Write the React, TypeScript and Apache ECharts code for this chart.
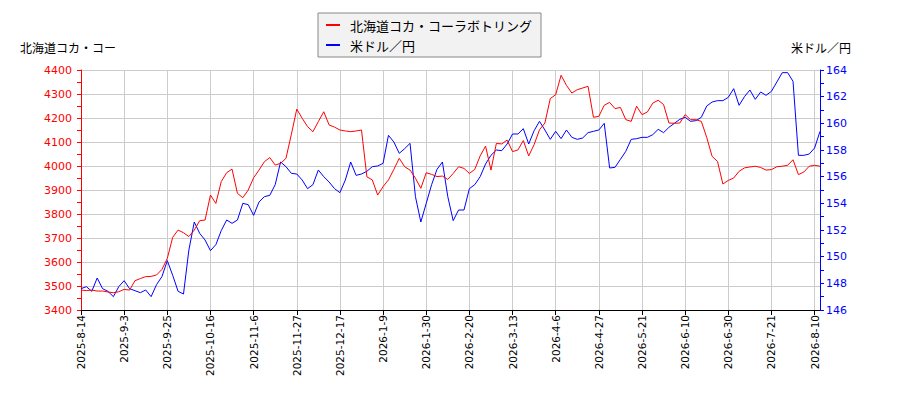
import React, { useEffect, useRef } from 'react';
import * as echarts from 'echarts';

// tick labels on the bottom axis, one every 8 sample steps
const tickLabels = [
  '2025-8-14', '2025-9-3', '2025-9-25', '2025-10-16', '2025-11-6', '2025-11-27',
  '2025-12-17', '2026-1-9', '2026-1-30', '2026-2-20', '2026-3-13', '2026-4-6',
  '2026-4-27', '2026-5-21', '2026-6-10', '2026-6-30', '2026-7-21', '2026-8-10',
];

const stockName = '北海道コカ・コーラボトリング';
const fxName = '米ドル／円';

// 北海道コカ・コーラボトリング (left axis, yen)
const stockValues = [
  3483, 3481, 3483, 3479, 3479, 3475, 3472, 3476, 3486, 3483,
  3522, 3531, 3539, 3540, 3546, 3569, 3615, 3703, 3733, 3722,
  3706, 3733, 3772, 3775, 3879, 3844, 3935, 3972, 3987, 3886,
  3868, 3900, 3951, 3983, 4018, 4035, 4004, 4011, 4032, 4132,
  4237, 4199, 4164, 4143, 4185, 4226, 4171, 4162, 4150, 4146,
  4143, 4146, 4150, 3955, 3942, 3879, 3914, 3942, 3986, 4032,
  3997, 3983, 3949, 3907, 3972, 3965, 3956, 3958, 3944, 3969,
  3997, 3990, 3969, 3986, 4042, 4083, 3983, 4094, 4092, 4108,
  4060, 4067, 4106, 4042, 4089, 4151, 4179, 4281, 4297, 4378,
  4336, 4304, 4318, 4325, 4332, 4203, 4207, 4253, 4265, 4239,
  4244, 4193, 4186, 4249, 4214, 4225, 4262, 4274, 4256, 4179,
  4178, 4179, 4214, 4193, 4193, 4186, 4119, 4040, 4019, 3925,
  3940, 3950, 3978, 3992, 3996, 3999, 3994, 3983, 3985, 3997,
  3999, 4003, 4026, 3964, 3975, 3999, 4003, 3999,
];

// 米ドル／円 (right axis)
const fxValues = [
  147.6, 147.75, 147.4, 148.4, 147.6, 147.4, 147.0, 147.75, 148.2, 147.6,
  147.45, 147.3, 147.5, 147.0, 147.9, 148.5, 149.7, 148.6, 147.4, 147.2,
  150.5, 152.6, 151.75, 151.25, 150.45, 150.9, 151.95, 152.75, 152.5, 152.75,
  154.0, 153.9, 153.1, 154.1, 154.5, 154.6, 155.4, 157.1, 156.75, 156.25,
  156.2, 155.75, 155.1, 155.4, 156.5, 156.0, 155.6, 155.1, 154.8, 155.75,
  157.1, 156.1, 156.2, 156.4, 156.75, 156.8, 157.0, 159.1, 158.6, 157.75,
  158.1, 158.5, 154.5, 152.6, 154.0, 155.4, 156.55, 157.1, 154.5, 152.7,
  153.5, 153.5, 155.1, 155.4, 156.0, 156.95, 157.6, 158.0, 157.95, 158.45,
  159.2, 159.2, 159.6, 158.45, 159.45, 160.15, 159.5, 158.8, 159.4, 158.85,
  159.5, 158.95, 158.8, 158.9, 159.3, 159.4, 159.5, 160.0, 156.65, 156.7,
  157.3, 157.9, 158.8, 158.85, 158.95, 158.95, 159.15, 159.55, 159.3, 159.7,
  160.0, 160.3, 160.45, 160.15, 160.2, 160.45, 161.3, 161.6, 161.7, 161.7,
  161.95, 162.6, 161.35, 162.0, 162.5, 161.8, 162.35, 162.1, 162.4, 163.1,
  163.8, 163.8, 163.15, 157.6, 157.6, 157.7, 158.15, 159.4,
];

const STEP = 8;
const GRID_COLOR = '#cccccc';
const JP_FONT = '"Noto Sans CJK JP", sans-serif';
const NUM_FONT = '"DejaVu Sans", sans-serif';

export default function App() {
  const chartRef = useRef<HTMLDivElement>(null);

  useEffect(() => {
    if (!chartRef.current) return;
    const chart = echarts.init(chartRef.current, undefined, { renderer: 'svg' });

    const option: echarts.EChartsOption = {
      animation: false,
      backgroundColor: '#ffffff',
      grid: { left: 81, right: 80, top: 70, bottom: 90, containLabel: false },
      legend: {
        orient: 'vertical',
        left: 318,
        top: 13,
        padding: [5, 9, 5, 8],
        itemGap: 6,
        itemWidth: 14,
        itemHeight: 2,
        icon: 'rect',
        backgroundColor: '#f2f2f2',
        borderColor: '#888888',
        borderWidth: 1,
        borderRadius: 0,
        textStyle: {
          fontFamily: JP_FONT,
          fontSize: 13,
          color: '#000000',
          lineHeight: 14,
          padding: [0, 0, 0, 5],
        },
        data: [stockName, fxName],
      },
      graphic: [
        {
          type: 'text',
          x: 20,
          y: 47,
          style: {
            text: '北海道コカ・コー',
            font: `12px ${JP_FONT}`,
            fill: '#000000',
            verticalAlign: 'middle',
          },
        },
        {
          type: 'text',
          x: 851,
          y: 47,
          style: {
            text: '米ドル／円',
            font: `12px ${JP_FONT}`,
            fill: '#000000',
            align: 'right',
            verticalAlign: 'middle',
          },
        },
      ],
      xAxis: {
        type: 'value',
        min: 0,
        max: stockValues.length - 1,
        interval: STEP,
        axisLine: { lineStyle: { color: '#000000', width: 1 } },
        axisTick: { show: true, length: 5, lineStyle: { color: '#000000' } },
        splitLine: { show: true, lineStyle: { color: GRID_COLOR, width: 1 } },
        axisLabel: {
          rotate: 90,
          margin: 5,
          fontFamily: NUM_FONT,
          fontSize: 10.5,
          color: '#000000',
          showMaxLabel: false,
          formatter: (v: number) => (v % STEP === 0 ? tickLabels[v / STEP] ?? '' : ''),
        },
      },
      yAxis: [
        {
          type: 'value',
          position: 'left',
          min: 3400,
          max: 4400,
          interval: 100,
          axisLine: { show: true, lineStyle: { color: '#ff0000', width: 1 } },
          axisTick: { show: true, length: 4, lineStyle: { color: '#ff0000' } },
          minorTick: { show: true, splitNumber: 2, length: 4, lineStyle: { color: '#ff0000' } },
          splitLine: { show: true, lineStyle: { color: GRID_COLOR, width: 1 } },
          axisLabel: {
            color: '#ff0000',
            fontFamily: NUM_FONT,
            fontSize: 11,
            margin: 9,
            formatter: (v: number) => String(v),
          },
        },
        {
          type: 'value',
          position: 'right',
          min: 146,
          max: 164,
          interval: 2,
          axisLine: { show: true, lineStyle: { color: '#0000ff', width: 1 } },
          axisTick: { show: true, length: 4, lineStyle: { color: '#0000ff' } },
          minorTick: { show: true, splitNumber: 2, length: 4, lineStyle: { color: '#0000ff' } },
          splitLine: { show: false },
          axisLabel: {
            color: '#0000ff',
            fontFamily: NUM_FONT,
            fontSize: 11,
            margin: 6,
            formatter: (v: number) => String(v),
          },
        },
      ],
      series: [
        {
          name: stockName,
          type: 'line',
          yAxisIndex: 0,
          data: stockValues.map((v, i) => [i, v]),
          showSymbol: false,
          lineStyle: { color: '#ff0000', width: 1 },
          itemStyle: { color: '#ff0000' },
          z: 3,
        },
        {
          name: fxName,
          type: 'line',
          yAxisIndex: 1,
          data: fxValues.map((v, i) => [i, v]),
          showSymbol: false,
          lineStyle: { color: '#0000ff', width: 1 },
          itemStyle: { color: '#0000ff' },
          z: 2,
        },
      ],
    };

    chart.setOption(option);
    return () => chart.dispose();
  }, []);

  return (
    <div
      ref={chartRef}
      style={{ position: 'absolute', left: 0, top: 0, width: 900, height: 400 }}
    />
  );
}
